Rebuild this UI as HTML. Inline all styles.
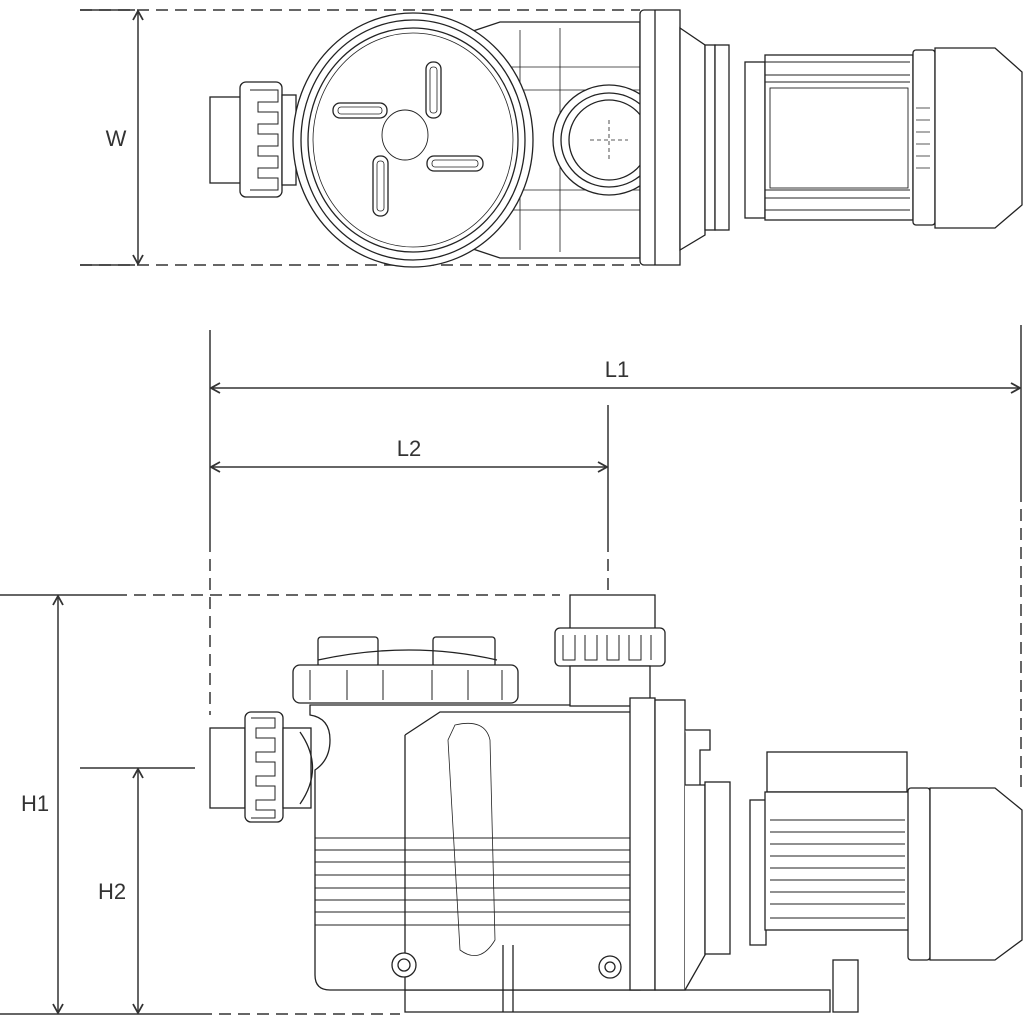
<!DOCTYPE html>
<html><head><meta charset="utf-8"><style>html,body{margin:0;padding:0;background:#fff}svg{display:block}</style></head>
<body>
<svg width="1024" height="1024" viewBox="0 0 1024 1024" xmlns="http://www.w3.org/2000/svg" font-family="Liberation Sans, sans-serif">
<defs>
<marker id="a" viewBox="0 0 12 12" refX="11" refY="6" markerWidth="12" markerHeight="12" markerUnits="userSpaceOnUse" orient="auto-start-reverse"><path d="M2 1 L11 6 L2 11" fill="none" stroke="#333" stroke-width="1.8"/></marker>
</defs>
<g stroke="#333" stroke-width="1.5" fill="none">
<path d="M80 10H640M80 265H640" stroke-dasharray="12 7"/>
<path d="M80 10H135M80 265H135"/>
<line x1="138" y1="11" x2="138" y2="264" marker-start="url(#a)" marker-end="url(#a)"/>
<path d="M210 330V540"/><path d="M210 540V715" stroke-dasharray="12 7"/>
<path d="M1021 325V490"/><path d="M1021 490V790" stroke-dasharray="12 7"/>
<line x1="211" y1="388" x2="1020" y2="388" marker-start="url(#a)" marker-end="url(#a)"/>
<path d="M608 405V540"/><path d="M608 540V592" stroke-dasharray="12 7"/>
<line x1="211" y1="467" x2="607" y2="467" marker-start="url(#a)" marker-end="url(#a)"/>
<path d="M0 595H115"/><path d="M115 595H560" stroke-dasharray="12 7"/>
<path d="M0 1014H200"/><path d="M200 1014H400" stroke-dasharray="12 7"/>
<line x1="58" y1="596" x2="58" y2="1013" marker-start="url(#a)" marker-end="url(#a)"/>
<path d="M80 768H195"/>
<line x1="138" y1="769" x2="138" y2="1013" marker-start="url(#a)" marker-end="url(#a)"/>
</g>
<g fill="#333" font-size="22" text-anchor="middle">
<text x="116" y="146">W</text>
<text x="617" y="377">L1</text>
<text x="409" y="456">L2</text>
<text x="35" y="811">H1</text>
<text x="112" y="899">H2</text>
</g>

<!-- TOP VIEW -->
<g stroke="#222" stroke-width="1.3" fill="#fff">
<path d="M470 32 L500 22 H640 V258 H500 L470 248 Z"/>
<path d="M520 30V250M560 28V252" stroke-width="0.8" fill="none"/>
<path d="M490 67H640M490 90H640M490 190H640M490 210H640" stroke-width="0.8" fill="none"/>
<rect x="210" y="97" width="32" height="86"/>
<rect x="240" y="82" width="42" height="115" rx="6"/>
<path d="M250 90H278V102H258V112H278V124H258V134H278V146H258V156H278V168H258V178H278V190H250" fill="none" stroke-width="1"/>
<rect x="282" y="95" width="14" height="90"/>
<ellipse cx="413" cy="140" rx="120" ry="127"/>
<ellipse cx="413" cy="140" rx="112" ry="120" fill="none"/>
<ellipse cx="413" cy="140" rx="105" ry="112" fill="none"/>
<ellipse cx="413" cy="140" rx="100" ry="107" fill="none" stroke-width="0.8"/>
<ellipse cx="405" cy="135" rx="23" ry="25" fill="none" stroke-width="0.9"/>
<rect x="426" y="62" width="15" height="56" rx="7"/><rect x="430" y="67" width="7" height="46" rx="3" fill="none" stroke-width="0.8"/>
<rect x="333" y="103" width="54" height="15" rx="7"/><rect x="338" y="107" width="44" height="7" rx="3" fill="none" stroke-width="0.8"/>
<rect x="427" y="156" width="56" height="15" rx="7"/><rect x="432" y="160" width="46" height="7" rx="3" fill="none" stroke-width="0.8"/>
<rect x="373" y="156" width="15" height="60" rx="7"/><rect x="377" y="161" width="7" height="50" rx="3" fill="none" stroke-width="0.8"/>
<ellipse cx="609" cy="140" rx="56" ry="55"/>
<ellipse cx="609" cy="140" rx="48" ry="47" fill="none"/>
<ellipse cx="609" cy="140" rx="40" ry="40" fill="none"/>
<path d="M590 140H628M609 120V160" stroke-dasharray="4 3" stroke-width="0.8" fill="none"/>
<rect x="640" y="10" width="18" height="255" rx="4"/>
<rect x="655" y="10" width="25" height="255"/>
<path d="M680 28 L705 45 V235 L680 250Z"/>
<rect x="705" y="45" width="10" height="185"/>
<rect x="715" y="45" width="14" height="185"/>
<rect x="745" y="62" width="20" height="156"/>
<rect x="765" y="55" width="148" height="165"/>
<path d="M765 62H910M765 75H910M765 82H910M765 190H910M765 198H910M765 210H910" fill="none" stroke-width="0.9"/>
<rect x="770" y="88" width="138" height="100" stroke-width="0.9"/>
<rect x="913" y="50" width="22" height="175" rx="3"/>
<path d="M935 48 H995 L1022 72 V205 L995 228 H935Z"/>
<path d="M916 108H930M916 120H930M916 132H930M916 144H930M916 156H930M916 168H930" fill="none" stroke-width="0.8"/>
</g>

<!-- SIDE VIEW -->
<g stroke="#222" stroke-width="1.3" fill="#fff">
<rect x="405" y="990" width="425" height="22"/>
<rect x="833" y="960" width="25" height="52"/>
<path d="M310 705 H640 V990 H330 Q315 990 315 975 V770 Q330 760 330 740 Q330 718 310 715Z"/>
<path d="M405 735 L440 712 H640" fill="none"/>
<path d="M405 735 V990" fill="none"/>
<path d="M455 725 Q485 718 490 740 L495 940 Q480 965 460 950 L448 740Z" fill="none" stroke-width="0.8"/>
<path d="M315 850H640M315 862H640M315 875H640M315 888H640M315 900H640M315 912H640M315 925H640M315 838H640" fill="none" stroke-width="1"/>
<rect x="210" y="728" width="35" height="80"/>
<rect x="245" y="712" width="38" height="110" rx="6"/>
<path d="M251 718H275V728H256V738H275V752H256V762H275V776H256V786H275V800H256V810H275V818H251" fill="none" stroke-width="1"/>
<rect x="283" y="728" width="28" height="80"/>
<path d="M300 732 Q325 768 300 804" fill="none"/>
<rect x="318" y="637" width="60" height="30" rx="3"/>
<rect x="433" y="637" width="62" height="30" rx="3"/>
<path d="M318 660 Q410 640 497 660" fill="none"/>
<rect x="293" y="665" width="225" height="38" rx="7"/>
<path d="M310 670V700M347 670V700M383 670V700M432 670V700M468 670V700M502 670V700" fill="none" stroke-width="1"/>
<rect x="570" y="595" width="85" height="35"/>
<rect x="555" y="628" width="110" height="38" rx="5"/>
<path d="M563 635V660H575V635M585 635V660H597V635M607 635V660H619V635M629 635V660H641V635M651 635V660" fill="none" stroke-width="1"/>
<rect x="570" y="666" width="80" height="40"/>
<rect x="630" y="698" width="25" height="292"/>
<rect x="655" y="700" width="30" height="290"/>
<path d="M685 730 H710 V750 H700 V785"/>
<path d="M685 785 H705 V955 L685 990"/>
<rect x="705" y="782" width="25" height="172"/>
<rect x="750" y="800" width="16" height="145"/>
<rect x="767" y="752" width="140" height="40"/>
<rect x="765" y="792" width="145" height="138"/>
<path d="M770 820H905M770 832H905M770 844H905M770 856H905M770 868H905M770 880H905M770 892H905M770 904H905M770 918H905" fill="none" stroke-width="1"/>
<rect x="908" y="788" width="22" height="172" rx="3"/>
<path d="M930 788 H995 L1022 810 V940 L995 960 H930Z"/>
<circle cx="404" cy="965" r="12"/><circle cx="404" cy="965" r="6" fill="none"/>
<circle cx="610" cy="967" r="11"/><circle cx="610" cy="967" r="5" fill="none"/>
<path d="M503 945V1012M513 945V1012" fill="none"/>
</g>
</svg>
</body></html>
